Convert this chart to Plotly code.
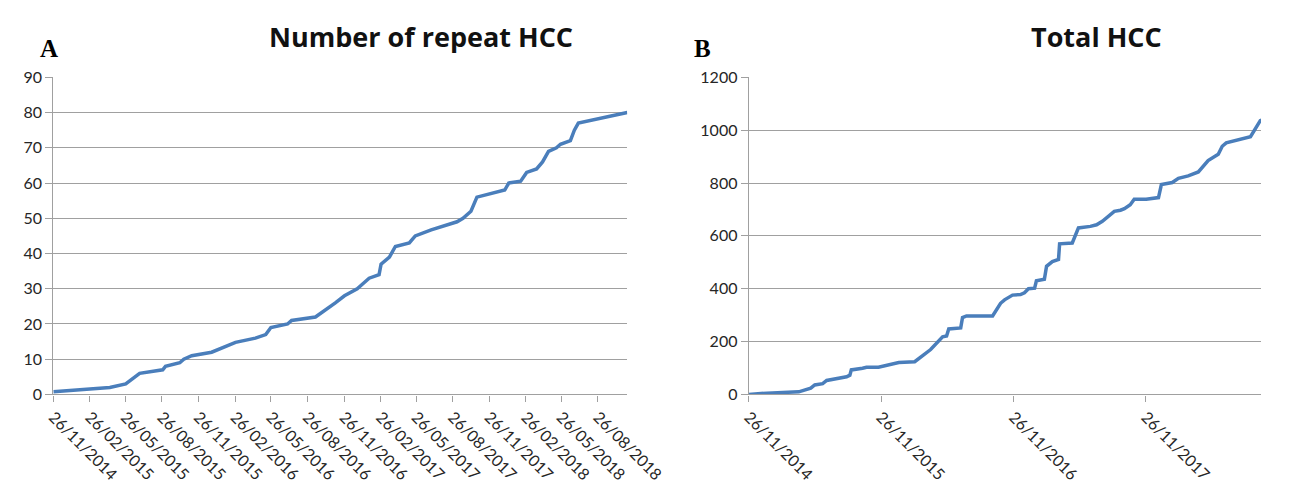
import plotly.graph_objects as go

# ---- Panel A: Number of repeat HCC ----
a_dates = ["2014-11-26", "2015-02-28", "2015-04-17", "2015-05-27", "2015-07-01", "2015-08-28",
           "2015-09-04", "2015-10-10", "2015-10-20", "2015-11-09", "2015-12-29", "2016-02-27",
           "2016-04-17", "2016-05-13", "2016-05-26", "2016-07-07", "2016-07-17", "2016-09-15",
           "2016-10-25", "2016-11-04", "2016-11-27", "2016-12-29", "2017-01-08", "2017-01-28",
           "2017-02-22", "2017-02-27", "2017-03-20", "2017-04-04", "2017-05-09", "2017-05-24",
           "2017-07-03", "2017-08-12", "2017-09-06", "2017-09-21", "2017-10-11", "2017-10-26",
           "2017-11-30", "2018-01-04", "2018-01-14", "2018-02-13", "2018-02-28", "2018-03-25",
           "2018-04-09", "2018-04-24", "2018-05-14", "2018-05-24", "2018-06-18", "2018-06-28",
           "2018-07-08", "2018-08-17", "2018-09-16", "2018-10-16", "2018-11-08"]
a_values = [0.8, 1.5, 2.0, 3.0, 6.0, 7.0, 8.0, 9.0, 10.0, 11.0, 12.0, 14.8,
            16.0, 17.0, 19.0, 20.0, 21.0, 22.0, 25.0, 26.0, 28.0, 30.0, 31.0, 33.0,
            34.0, 37.0, 39.0, 42.0, 43.0, 45.0, 46.7, 48.0, 49.0, 50.0, 52.0, 56.0,
            57.0, 58.0, 60.0, 60.5, 63.0, 64.0, 66.0, 69.0, 70.0, 71.0, 72.0, 75.0,
            77.0, 78.0, 78.5, 79.5, 80.0]
a_tickvals = ["2014-11-26", "2015-02-26", "2015-05-26", "2015-08-26", "2015-11-26", "2016-02-26",
              "2016-05-26", "2016-08-26", "2016-11-26", "2017-02-26", "2017-05-26", "2017-08-26",
              "2017-11-26", "2018-02-26", "2018-05-26", "2018-08-26"]
a_ticktext = ["26/11/2014", "26/02/2015", "26/05/2015", "26/08/2015", "26/11/2015", "26/02/2016",
              "26/05/2016", "26/08/2016", "26/11/2016", "26/02/2017", "26/05/2017", "26/08/2017",
              "26/11/2017", "26/02/2018", "26/05/2018", "26/08/2018"]

# ---- Panel B: Total HCC ----
b_dates = ["2014-11-26", "2015-01-15", "2015-04-13", "2015-05-16", "2015-05-27", "2015-06-18",
           "2015-06-29", "2015-08-23", "2015-09-01", "2015-09-05", "2015-10-06", "2015-10-17",
           "2015-11-19", "2015-12-23", "2016-01-14", "2016-02-27", "2016-04-11", "2016-05-14",
           "2016-05-25", "2016-05-31", "2016-07-03", "2016-07-08", "2016-07-19", "2016-09-29",
           "2016-10-21", "2016-11-01", "2016-11-23", "2016-12-15", "2016-12-26", "2017-01-06",
           "2017-01-23", "2017-01-28", "2017-02-19", "2017-02-25", "2017-03-13", "2017-03-30",
           "2017-04-02", "2017-05-07", "2017-05-24", "2017-06-26", "2017-07-13", "2017-07-29",
           "2017-08-31", "2017-09-17", "2017-09-28", "2017-10-14", "2017-10-25", "2017-11-27",
           "2017-12-31", "2018-01-08", "2018-02-07", "2018-02-24", "2018-03-23", "2018-04-20",
           "2018-05-17", "2018-06-14", "2018-06-25", "2018-07-06", "2018-09-11", "2018-10-08",
           "2018-10-25"]
b_values = [0, 5, 10, 24, 36, 41, 53, 67, 73, 93, 99, 103,
            103, 115, 121, 124, 170, 218, 221, 248, 252, 291, 297, 297,
            345, 358, 376, 378, 385, 400, 402, 430, 436, 485, 503, 511,
            570, 573, 630, 636, 642, 655, 693, 697, 703, 718, 739, 739,
            745, 794, 802, 818, 827, 842, 885, 909, 939, 952, 975, 1036,
            1045]
b_tickvals = ["2014-11-26", "2015-11-26", "2016-11-26", "2017-11-26"]
b_ticktext = ["26/11/2014", "26/11/2015", "26/11/2016", "26/11/2017"]

LINE = "#4A7EBB"
GRID = "#A0A0A0"
TXT = "#262626"
FONT = "Lato"
W, H = 1299, 490

fig = go.Figure()
fig.add_trace(go.Scatter(x=a_dates, y=a_values, mode="lines", xaxis="x", yaxis="y",
                         line=dict(color=LINE, width=3.5), showlegend=False))
fig.add_trace(go.Scatter(x=b_dates, y=b_values, mode="lines", xaxis="x2", yaxis="y2",
                         line=dict(color=LINE, width=3.5), showlegend=False))

ydom = [(H - 400) / H, (H - 70) / H]
common_x = dict(type="date", showgrid=False, showline=True, linecolor=GRID, linewidth=1.3,
                ticks="outside", ticklen=6, tickcolor=GRID, tickwidth=1.3, tickangle=45,
                tickfont=dict(family=FONT, size=16, color=TXT), zeroline=False)
common_y = dict(showgrid=True, gridcolor=GRID, gridwidth=1.3, showline=True, linecolor=GRID,
                linewidth=1.3, ticks="outside", ticklen=7, tickcolor=GRID, tickwidth=1.3,
                tickfont=dict(family=FONT, size=16, color=TXT), zeroline=False, domain=ydom)

fig.update_layout(
    width=W, height=H,
    margin=dict(l=0, r=0, t=0, b=0),
    paper_bgcolor="white", plot_bgcolor="white",
    xaxis=dict(common_x, domain=[47 / W, 642 / W], anchor="y",
               range=["2014-11-26", "2018-11-08"], tickvals=a_tickvals, ticktext=a_ticktext),
    yaxis=dict(common_y, anchor="x", range=[0, 90], dtick=10),
    xaxis2=dict(common_x, domain=[768 / W, 1.0], anchor="y2",
                range=["2014-11-26", "2018-10-10"], tickvals=b_tickvals, ticktext=b_ticktext),
    yaxis2=dict(common_y, anchor="x2", range=[0, 1200], dtick=200),
    annotations=[
        dict(text="<b>Number of repeat HCC</b>", x=428 / W, y=1 - 28 / H, xref="paper",
             yref="paper", showarrow=False, xanchor="center", yanchor="middle",
             font=dict(family="Open Sans", size=27, color="#111")),
        dict(text="<b>Total HCC</b>", x=1128 / W, y=1 - 28 / H, xref="paper",
             yref="paper", showarrow=False, xanchor="center", yanchor="middle",
             font=dict(family="Open Sans", size=27, color="#111")),
        dict(text="<b>A</b>", x=43 / W, y=1 - 40 / H, xref="paper", yref="paper",
             showarrow=False, xanchor="center", yanchor="middle",
             font=dict(family="Liberation Serif", size=25, color="#000")),
        dict(text="<b>B</b>", x=720 / W, y=1 - 40 / H, xref="paper", yref="paper",
             showarrow=False, xanchor="center", yanchor="middle",
             font=dict(family="Liberation Serif", size=25, color="#000")),
    ],
)

fig.write_html("out.html", config={"displayModeBar": False},
               post_script="document.body.style.margin='0';")
